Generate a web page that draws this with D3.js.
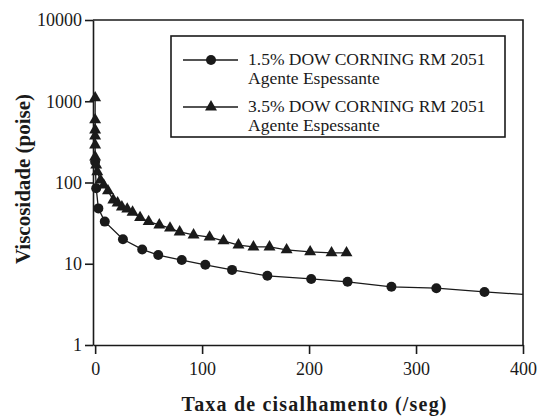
<!DOCTYPE html>
<html>
<head>
<meta charset="utf-8">
<script src="https://cdn.jsdelivr.net/npm/d3@7/dist/d3.min.js"></script>
<style>
  html, body { margin: 0; padding: 0; background: #fff; }
  svg { display: block; }
</style>
</head>
<body>
<svg id="chart" width="538" height="416"></svg>
<script>
// ---- Data ----
const seriesNames = ["1.5% DOW CORNING RM 2051", "3.5% DOW CORNING RM 2051"];
const seriesSub = "Agente Espessante";

const circleShear = [0, 1, 3, 9, 26, 44, 59, 81, 103, 128, 161, 202, 236, 277, 319, 364];
const circleVisc  = [180, 85, 48, 33, 20, 15, 12.8, 11.1, 9.7, 8.4, 7.1, 6.5, 6.0, 5.2, 5.0, 4.5];
const circleTailShear = [400];
const circleTailVisc  = [4.2];

const triShear = [0, 0, 0, 0, 0, 0, 1, 2, 5, 8, 12, 17, 21, 25, 30, 35, 42, 50, 60, 70, 79, 92, 107, 120, 134, 148, 163, 179, 201, 221, 235];
const triVisc  = [1100, 590, 443, 374, 290, 206, 164, 135, 107, 93, 79, 61, 56, 50, 47, 43, 37, 33, 30, 27.5, 24.6, 22.6, 21.3, 19.1, 17, 16.1, 16.1, 14.8, 14, 13.6, 13.6];

const xTicks = [0, 100, 200, 300, 400];
const yTicks = [1, 10, 100, 1000, 10000];
const xTitle = "Taxa de cisalhamento (/seg)";
const yTitle = "Viscosidade (poise)";

// ---- Drawing ----
const ink = "#1a1a1a";
const serif = "'Liberation Serif', 'Times New Roman', serif";
const svg = d3.select("#chart");
const pLeft = 93, pRight = 523, pTop = 20, pBottom = 345;

const x = d3.scaleLinear().domain([-2, 400]).range([pLeft, pRight]);
const y = d3.scaleLog().domain([1, 10000]).range([pBottom, pTop]);

// frame (top and right)
svg.append("path")
  .attr("d", `M${pLeft},${y(10000)}H${x(400)}V${pBottom}`)
  .attr("fill", "none").attr("stroke", ink).attr("stroke-width", 1.6);

// axes
const xAxis = d3.axisBottom(x).tickValues(xTicks).tickFormat(d3.format("d"))
  .tickSize(9).tickSizeOuter(0).tickPadding(8);
const gx = svg.append("g").attr("transform", `translate(0,${pBottom})`).call(xAxis);
const yAxis = d3.axisLeft(y).tickValues(yTicks).tickFormat(d3.format("d"))
  .tickSize(8).tickSizeOuter(0).tickPadding(3);
const gy = svg.append("g").attr("transform", `translate(${pLeft},0)`).call(yAxis);

[gx, gy].forEach(g => {
  g.attr("font-family", null).attr("font-size", null);
  g.select(".domain").attr("stroke", ink).attr("stroke-width", 1.6);
  g.selectAll(".tick line").attr("stroke", ink).attr("stroke-width", 1.6);
  g.selectAll(".tick text")
    .style("font-family", serif)
    .style("font-size", "18px").attr("fill", ink);
});

// axis titles
svg.append("text")
  .attr("x", 314).attr("y", 411)
  .attr("text-anchor", "middle")
  .style("font-family", serif).style("font-size", "20px").style("font-weight", "bold")
  .attr("fill", ink)
  .attr("textLength", 265).attr("lengthAdjust", "spacing")
  .text(xTitle);

svg.append("text")
  .attr("transform", "translate(30,179) rotate(-90)")
  .attr("text-anchor", "middle")
  .style("font-family", serif).style("font-size", "21px").style("font-weight", "bold")
  .attr("fill", ink)
  .text(yTitle);

// series lines
const line = d3.line().x(d => x(d[0])).y(d => y(d[1]));
const circPts = circleShear.map((s, i) => [s, circleVisc[i]]);
const circLinePts = circPts.concat(circleTailShear.map((s, i) => [s, circleTailVisc[i]]));
const triPts = triShear.map((s, i) => [s, triVisc[i]]);

svg.append("path").datum(circLinePts).attr("d", line)
  .attr("fill", "none").attr("stroke", ink).attr("stroke-width", 1.3);
svg.append("path").datum(triPts).attr("d", line)
  .attr("fill", "none").attr("stroke", ink).attr("stroke-width", 1.3);

// markers
svg.append("g").selectAll("circle").data(circPts).join("circle")
  .attr("cx", d => x(d[0])).attr("cy", d => y(d[1])).attr("r", 5)
  .attr("fill", ink);

const tri = d3.symbol().type(d3.symbolTriangle).size(62);
svg.append("g").selectAll("path").data(triPts).join("path")
  .attr("d", tri)
  .attr("transform", d => `translate(${x(d[0])},${y(d[1])})`)
  .attr("fill", ink);

// legend
const lg = svg.append("g");
lg.append("rect").attr("x", 171).attr("y", 36).attr("width", 334).attr("height", 101)
  .attr("fill", "#fff").attr("stroke", ink).attr("stroke-width", 1.6);

const legendRows = [
  { y: 60, ty: 65, marker: "circle" },
  { y: 107, ty: 112, marker: "triangle" }
];
legendRows.forEach((r, i) => {
  lg.append("line").attr("x1", 183).attr("x2", 238).attr("y1", r.y).attr("y2", r.y)
    .attr("stroke", ink).attr("stroke-width", 1.3);
  if (r.marker === "circle") {
    lg.append("circle").attr("cx", 211).attr("cy", r.y).attr("r", 5).attr("fill", ink);
  } else {
    lg.append("path").attr("d", tri).attr("transform", `translate(211,${r.y})`).attr("fill", ink);
  }
  lg.append("text").attr("x", 248).attr("y", r.ty)
    .style("font-family", serif).style("font-size", "17.5px").attr("fill", ink)
    .text(seriesNames[i]);
  lg.append("text").attr("x", 248).attr("y", r.ty + 19)
    .style("font-family", serif).style("font-size", "17.5px").attr("fill", ink)
    .text(seriesSub);
});
</script>
</body>
</html>
